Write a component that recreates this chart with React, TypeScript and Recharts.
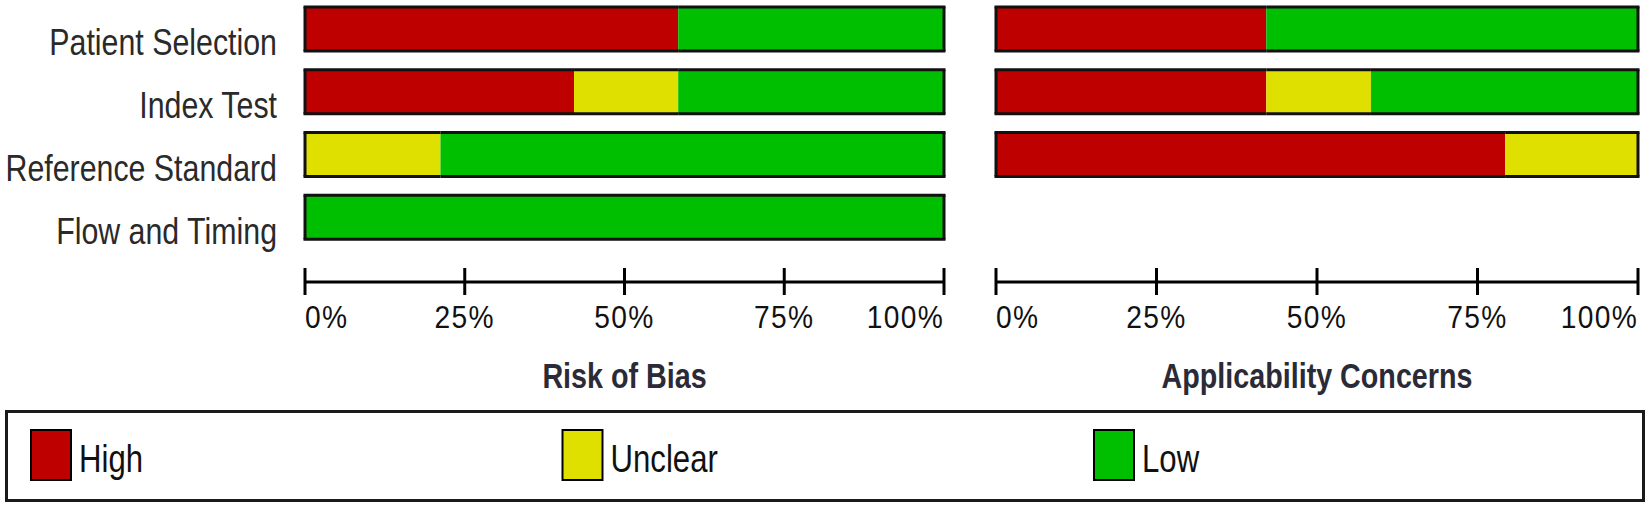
import { BarChart, Bar, XAxis, YAxis, Label } from "recharts";

// QUADAS-2 style summary, percentages of studies per judgement
const domains = ["Patient Selection", "Index Test", "Reference Standard", "Flow and Timing"];

const biasHigh = [58.4, 42.1, 0, 0];
const biasUnclear = [0, 16.3, 21.2, 0];
const biasLow = [41.6, 41.6, 78.8, 100];

const applicHigh = [42.1, 42.1, 79.3, 0];
const applicUnclear = [0, 16.3, 20.7, 0];
const applicLow = [57.9, 41.6, 0, 0];

const levels = ["high", "unclear", "low"];
const levelLabels = ["High", "Unclear", "Low"];
const levelColors = ["#BF0000", "#E0E000", "#00BF00"];
const percentTicks = [0, 25, 50, 75, 100];

// no narrow font installed, so squeeze Liberation Sans horizontally
const FONT = "'Liberation Sans', Arial, sans-serif";
const SQUEEZE = 0.82;

function NarrowText({ x, y, anchor = "start", size, weight = 400, fill = "#111", squeeze = SQUEEZE, spacing = 0, children }: any) {
  return (
    <g transform={`translate(${x},${y}) scale(${squeeze},1)`}>
      <text x={0} y={0} textAnchor={anchor} fontFamily={FONT} fontSize={size} fontWeight={weight} fill={fill} letterSpacing={spacing}>
        {children}
      </text>
    </g>
  );
}

function buildRows(high: number[], unclear: number[], low: number[]) {
  return domains.map((domain, i) => ({ domain, high: high[i], unclear: unclear[i], low: low[i] }));
}

const biasRows = buildRows(biasHigh, biasUnclear, biasLow);
const applicRows = buildRows(applicHigh, applicUnclear, applicLow);

// stacked segment with an outline only on the outside of the whole bar
function segmentShape(key: string) {
  return (props: any) => {
    const { x, y, width, height, fill, payload } = props;
    if (!width || width <= 0) return <g />;
    const i = levels.indexOf(key);
    const before = levels.slice(0, i).reduce((s, k) => s + (payload[k] || 0), 0);
    const after = levels.slice(i + 1).reduce((s, k) => s + (payload[k] || 0), 0);
    const x0 = before === 0 ? x - 1.5 : x;
    const x1 = after === 0 ? x + width + 1.5 : x + width;
    return (
      <g>
        <rect x={x} y={y} width={width} height={height} fill={fill} />
        <line x1={x0} y1={y} x2={x1} y2={y} stroke="#111" strokeWidth={3} />
        <line x1={x0} y1={y + height} x2={x1} y2={y + height} stroke="#111" strokeWidth={3} />
        {before === 0 && <line x1={x} y1={y} x2={x} y2={y + height} stroke="#111" strokeWidth={3} />}
        {after === 0 && <line x1={x + width} y1={y} x2={x + width} y2={y + height} stroke="#111" strokeWidth={3} />}
      </g>
    );
  };
}

function PercentTick({ x, y, payload }: any) {
  const v = payload.value;
  const anchor = v === 0 ? "start" : v === 100 ? "end" : "middle";
  return (
    <g>
      <line x1={x} y1={y - 14} x2={x} y2={y + 13} stroke="#000" strokeWidth={3} />
      <NarrowText x={x} y={y + 46} anchor={anchor} size={32} squeeze={0.88} spacing={1.5}>
        {v}%
      </NarrowText>
    </g>
  );
}

function DomainTick({ x, y, payload }: any) {
  return (
    <NarrowText x={x} y={y + 26} anchor="end" size={37} fill="#2a2a2a">
      {payload.value}
    </NarrowText>
  );
}

function titleContent(title: string) {
  return (props: any) => {
    const vb = props.viewBox || {};
    return (
      <NarrowText x={vb.x + vb.width / 2} y={vb.y + vb.height - 6} anchor="middle" size={35} weight={700} fill="#2b2b38">
        {title}
      </NarrowText>
    );
  };
}

function Panel({ rows, title, showLabels, width, margin }: any) {
  return (
    <BarChart width={width} height={410} data={rows} layout="vertical" margin={margin} barSize={44}>
      <XAxis
        type="number"
        domain={[0, 100]}
        ticks={percentTicks}
        interval={0}
        tick={<PercentTick />}
        tickSize={0}
        tickMargin={0}
        tickLine={false}
        axisLine={{ stroke: "#000", strokeWidth: 3 }}
        height={112}
      >
        <Label content={titleContent(title)} />
      </XAxis>
      <YAxis
        type="category"
        dataKey="domain"
        width={showLabels ? 305 : 0}
        hide={!showLabels}
        interval={0}
        tickSize={0}
        tickMargin={28}
        tickLine={false}
        axisLine={false}
        tick={<DomainTick />}
        padding={{ top: 0, bottom: 33 }}
      />
      {levels.map((k, i) => (
        <Bar key={k} dataKey={k} stackId="a" fill={levelColors[i]} isAnimationActive={false} shape={segmentShape(k)} />
      ))}
    </BarChart>
  );
}

function LegendBox() {
  return (
    <svg width={1650} height={110} style={{ position: "absolute", left: 0, top: 400 }}>
      <rect x={6.5} y={11.5} width={1637} height={89} fill="#fff" stroke="#1a1a1a" strokeWidth={3} />
      {levelLabels.map((label, i) => {
        const x = 30 + i * 531.5;
        return (
          <g key={label}>
            <rect x={x + 1} y={30} width={40} height={50} fill={levelColors[i]} stroke="#000" strokeWidth={2} />
            <NarrowText x={x + 49} y={72} size={38}>
              {label}
            </NarrowText>
          </g>
        );
      })}
    </svg>
  );
}

export default function App() {
  return (
    <div style={{ position: "absolute", left: 0, top: 0, width: 1650, height: 510, background: "#fff", overflow: "hidden" }}>
      <div style={{ position: "absolute", left: 0, top: -2 }}>
        <Panel rows={biasRows} title="Risk of Bias" showLabels width={960} margin={{ top: 0, right: 16, bottom: 14, left: 0 }} />
      </div>
      <div style={{ position: "absolute", left: 960, top: -2 }}>
        <Panel rows={applicRows} title="Applicability Concerns" showLabels={false} width={690} margin={{ top: 0, right: 12, bottom: 14, left: 36 }} />
      </div>
      <LegendBox />
    </div>
  );
}
